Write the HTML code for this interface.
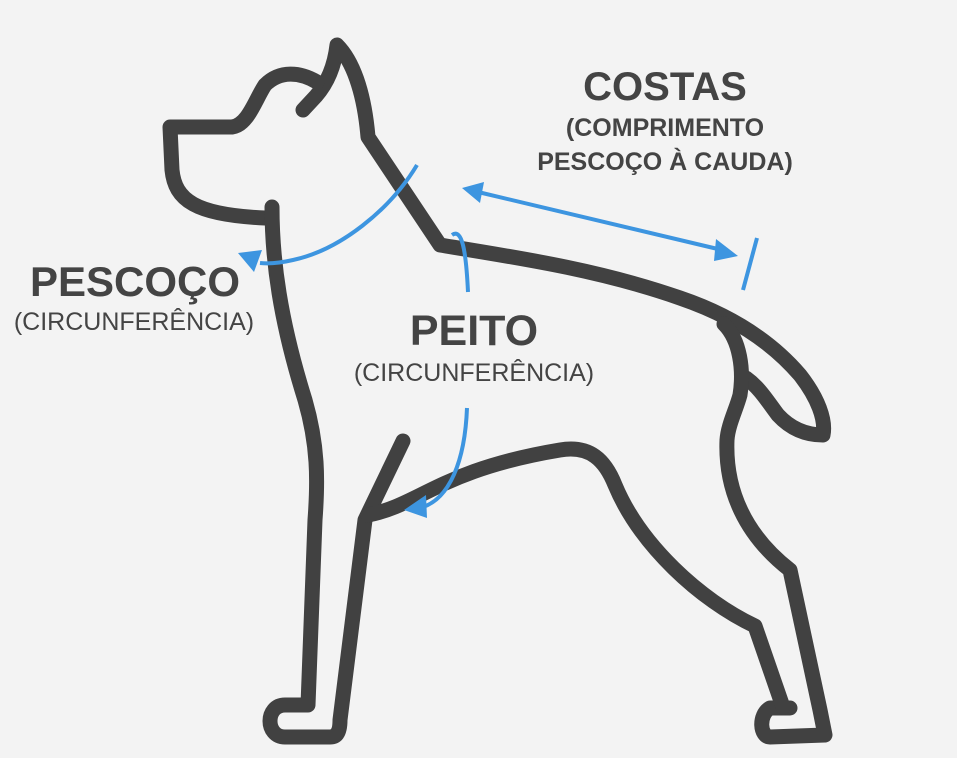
<!DOCTYPE html>
<html><head><meta charset="utf-8"><style>
html,body{margin:0;padding:0;background:#f3f3f3;}
svg{display:block}
text{font-family:"Liberation Sans",sans-serif;fill:#444;}
</style></head><body>
<svg width="957" height="758" viewBox="0 0 957 758" xmlns="http://www.w3.org/2000/svg">
<rect width="957" height="758" fill="#f3f3f3"/>
<g fill="none" stroke="#414141" stroke-width="15" stroke-linecap="round" stroke-linejoin="round">
<path d="M303,110 L316,96 C330,80 335,62 337,45 C352,60 364,90 368,137 L440,245 C520,258 600,270 680,298 C730,315 770,340 800,375 C818,398 826,420 823,435 C805,435 790,428 778,415 C768,402 760,388 746,378"/>
<path d="M724,324 C740,340 744,370 740,395 C736,410 728,425 727,440 C725,490 745,535 790,570 L820,710 L825,735 L770,737 C760,737 758,715 770,708 L790,708"/>
<path d="M317,82 C300,72 280,70 265,85 C255,100 248,125 232,127 L170,127 L172,170 C175,200 195,215 265,218"/>
<path d="M272,207 C272,260 280,320 305,400 C318,445 318,480 315,520 L308,705 L285,705 C265,705 265,737 285,737 L330,737 C340,737 340,725 340,720 L365,520 L403,441"/>
<path d="M368,515 C420,505 440,470 560,450 C590,445 605,460 615,485 C640,545 700,600 755,626 L783,707"/>
</g>
<g fill="none" stroke="#3d95e0" stroke-width="4" stroke-linecap="butt">
<path d="M417,165 C390,210 340,250 293,260 C280,263 270,264 260,263"/>
<path d="M452,235 C462,228 466,250 468,292"/>
<path d="M467,408 C465,460 450,500 420,508"/>
<path d="M478,192 L722,250"/>
<path d="M757,238 L743,290"/>
</g>
<g fill="#3d95e0">
<polygon points="238,253 262,250 254,272"/>
<polygon points="404,510 426,495 427,518"/>
<polygon points="462,188 484,182 480,203"/>
<polygon points="738,256 716,239 714,261"/>
</g>
<text x="665" y="100" text-anchor="middle" font-size="40" font-weight="bold">COSTAS</text>
<text x="665" y="136" text-anchor="middle" font-size="25" font-weight="bold">(COMPRIMENTO</text>
<text x="665" y="170" text-anchor="middle" font-size="25" font-weight="bold">PESCOÇO À CAUDA)</text>
<text x="135" y="296" text-anchor="middle" font-size="42" font-weight="bold">PESCOÇO</text>
<text x="134" y="330" text-anchor="middle" font-size="25">(CIRCUNFERÊNCIA)</text>
<text x="474" y="345" text-anchor="middle" font-size="43" font-weight="bold">PEITO</text>
<text x="474" y="381" text-anchor="middle" font-size="25">(CIRCUNFERÊNCIA)</text>
</svg>
</body></html>
